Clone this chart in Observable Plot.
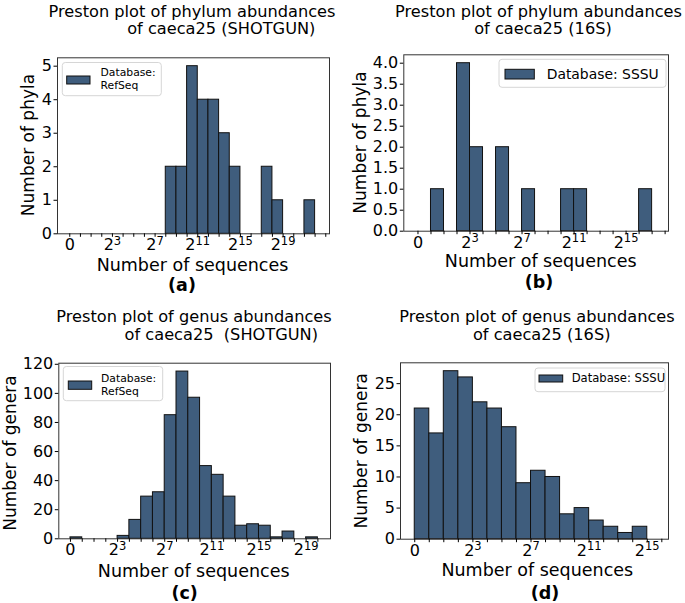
<!DOCTYPE html>
<html><head><meta charset="utf-8">
<script src="https://cdn.jsdelivr.net/npm/d3@7"></script>
<script src="https://cdn.jsdelivr.net/npm/@observablehq/plot@0.6"></script>
<style>
html,body{margin:0;padding:0;background:#fff;}
#wrap{position:relative;width:685px;height:603px;overflow:hidden;font-family:"DejaVu Sans",sans-serif;background:#fff;}
#wrap svg{position:absolute;left:0;top:0;}
text{white-space:pre;}
</style></head><body><div id="wrap"></div>
<script>
const W = 685, H = 603;
const barColor = "#3F5D7D";

// (a) phylum, SHOTGUN — octave bin starts (log2 units, 0 shown at -1) and counts
const binsA = [8, 9, 10, 11, 12, 13, 14, 17, 18, 21];
const countsA = [2, 2, 5, 4, 4, 3, 2, 2, 1, 1];
// (b) phylum, 16S
const binsB = [0, 2, 3, 5, 7, 10, 11, 16];
const countsB = [1, 4, 2, 2, 1, 1, 1, 1];
// (c) genus, SHOTGUN
const binsC = [-1, 3, 4, 5, 6, 7, 8, 9, 10, 11, 12, 13, 14, 15, 16, 17, 19];
const countsC = [1, 2, 13, 29, 32, 85, 115, 97, 50, 44, 29, 9, 10, 9, 1, 5, 1];
// (d) genus, 16S
const binsD = [-1, 0, 1, 2, 3, 4, 5, 6, 7, 8, 9, 10, 11, 12, 13, 14];
const countsD = [21, 17, 27, 26, 22, 21, 18, 9, 11, 10, 4, 5, 3, 2, 1, 2];

// x tick labels
const xTickPos = [-1, 3, 7, 11, 15, 19];
const xTickLabels = ["0", "2^3", "2^7", "2^11", "2^15", "2^19"];
// y ticks
const yTicksA = [0, 1, 2, 3, 4, 5];
const yTicksB = [0, 0.5, 1, 1.5, 2, 2.5, 3, 3.5, 4];
const yTicksC = [0, 20, 40, 60, 80, 100, 120];
const yTicksD = [0, 5, 10, 15, 20, 25];

// texts
const titlesA = ["Preston plot of phylum abundances", "of caeca25 (SHOTGUN)"];
const titlesB = ["Preston plot of phylum abundances", "of caeca25 (16S)"];
const titlesC = ["Preston plot of genus abundances", "of caeca25  (SHOTGUN)"];
const titlesD = ["Preston plot of genus abundances", "of caeca25 (16S)"];
const xLabel = "Number of sequences";
const yLabelPhyla = "Number of phyla";
const yLabelGenera = "Number of genera";
const panelTags = ["(a)", "(b)", "(c)", "(d)"];
const legendRefSeq = ["Database:", "RefSeq"];
const legendSSSU = ["Database: SSSU"];

const labelMap = new Map(xTickPos.map((p, i) => [p, xTickLabels[i]]));
const wrap = document.getElementById("wrap");

function panel(cfg) {
  const [fl, fr, ft, fb] = cfg.frame;
  const data = cfg.bins.map((b, i) => ({x1: b, x2: b + 1, y: cfg.counts[i]}));
  const svg = Plot.plot({
    width: W, height: H,
    marginLeft: fl, marginRight: W - fr, marginTop: ft, marginBottom: H - fb,
    style: {fontFamily: "DejaVu Sans", fontSize: "16px", background: "transparent", color: "#000", overflow: "visible"},
    x: {domain: cfg.xDomain},
    y: {domain: cfg.yDomain},
    marks: [
      Plot.rectY(data, {x1: "x1", x2: "x2", y1: 0, y2: "y", fill: barColor, stroke: "#111", strokeWidth: 1}),
      Plot.frame({stroke: "#333", strokeWidth: 1}),
      Plot.axisX({ticks: d3.range(-1, cfg.tickMax + 1), tickSize: 3.5, tickPadding: 1.5,
        tickFormat: d => labelMap.get(d) ?? "", label: null, fontSize: 16}),
      Plot.axisY({ticks: cfg.yTicks, tickSize: 3.5, tickPadding: 2,
        tickFormat: cfg.yFormat, label: null, fontSize: 16})
    ]
  });
  d3.select(svg).selectAll('g[aria-label="x-axis tick label"] text').each(function () {
    const m = /^2\^(\d+)$/.exec(this.textContent);
    if (m) {
      const el = d3.select(this);
      el.text("");
      el.append("tspan").text("2");
      el.append("tspan").attr("dy", "-0.45em").attr("font-size", "0.72em").text(m[1]);
    }
  });
  wrap.appendChild(svg);
}

panel({bins: binsA, counts: countsA, frame: [57, 329, 57.3, 233.3], xDomain: [-2.15, 23.35], yDomain: [0, 5.25], yTicks: yTicksA, yFormat: d3.format("d"), tickMax: 23});
panel({bins: binsB, counts: countsB, frame: [403.3, 668, 54.3, 230.7], xDomain: [-2.09, 18.26], yDomain: [0, 4.2], yTicks: yTicksB, yFormat: d3.format(".1f"), tickMax: 18});
panel({bins: binsC, counts: countsC, frame: [58.3, 330, 362.7, 538.3], xDomain: [-1.99, 21.07], yDomain: [0, 120.75], yTicks: yTicksC, yFormat: d3.format("d"), tickMax: 20});
panel({bins: binsD, counts: countsD, frame: [400, 668, 362.3, 538.7], xDomain: [-1.98, 16.46], yDomain: [0, 28.35], yTicks: yTicksD, yFormat: d3.format("d"), tickMax: 16});

// overlay for titles, labels, legends
const over = d3.create("svg").attr("width", W).attr("height", H)
  .attr("font-family", "DejaVu Sans").style("overflow", "visible");

function txt(x, y, s, o = {}) {
  const t = over.append("text").attr("fill", "#000")
    .attr("font-size", o.size || 16).attr("text-anchor", o.anchor || "middle")
    .attr("font-weight", o.weight || "normal").style("white-space", "pre").text(s);
  if (o.rotate) t.attr("transform", `translate(${x},${y}) rotate(-90)`);
  else t.attr("x", x).attr("y", y);
}

const TS = 16.2;
// titles
txt(192, 16.5, titlesA[0], {size: TS}); txt(221.3, 34.3, titlesA[1], {size: TS});
txt(538.5, 16.5, titlesB[0], {size: TS}); txt(543, 34.3, titlesB[1], {size: TS});
txt(194, 322, titlesC[0], {size: TS}); txt(221.3, 340, titlesC[1], {size: TS});
txt(537, 322, titlesD[0], {size: TS}); txt(541.7, 339.7, titlesD[1], {size: TS});

// x labels
txt(192.5, 270.7, xLabel, {size: 17.5});
txt(540.7, 267, xLabel, {size: 17.5});
txt(193.7, 576.5, xLabel, {size: 17.5});
txt(537.3, 576, xLabel, {size: 17.5});
// panel tags
txt(182, 290.5, panelTags[0], {size: 17.5, weight: "bold"});
txt(539, 287.5, panelTags[1], {size: 17.5, weight: "bold"});
txt(184.7, 599, panelTags[2], {size: 17.5, weight: "bold"});
txt(545, 599, panelTags[3], {size: 17.5, weight: "bold"});
// y labels
txt(34, 145, yLabelPhyla, {size: 17, rotate: true});
txt(365.7, 142.5, yLabelPhyla, {size: 17, rotate: true});
txt(15.7, 453, yLabelGenera, {size: 17, rotate: true});
txt(367.4, 450.8, yLabelGenera, {size: 17, rotate: true});

// legends
function legend(box, patch, lines, tx, baselines, size) {
  over.append("rect").attr("x", box[0]).attr("y", box[2]).attr("width", box[1] - box[0]).attr("height", box[3] - box[2])
    .attr("rx", 3).attr("fill", "#fff").attr("fill-opacity", 0.8).attr("stroke", "#d6d6d6").attr("stroke-width", 1);
  over.append("rect").attr("x", patch[0]).attr("y", patch[2]).attr("width", patch[1] - patch[0]).attr("height", patch[3] - patch[2])
    .attr("fill", barColor).attr("stroke", "#111").attr("stroke-width", 1);
  lines.forEach((l, i) => txt(tx, baselines[i], l, {size, anchor: "start"}));
}
legend([62.3, 161.3, 62.5, 95.7], [66.7, 90, 76, 84], legendRefSeq, 100.5, [76.3, 89], 10.8);
legend([499, 666, 59.3, 87.3], [505, 534.3, 69.3, 79], legendSSSU, 546.7, [79.3], 13.9);
legend([63.3, 162.7, 366.5, 400.7], [68.3, 91.7, 381, 389.3], legendRefSeq, 101, [381.7, 395], 10.8);
legend([535, 665, 368, 391.7], [539, 562.7, 375, 382], legendSSSU, 571.7, [381.9], 11.6);

wrap.appendChild(over.node());
</script>
</body></html>
